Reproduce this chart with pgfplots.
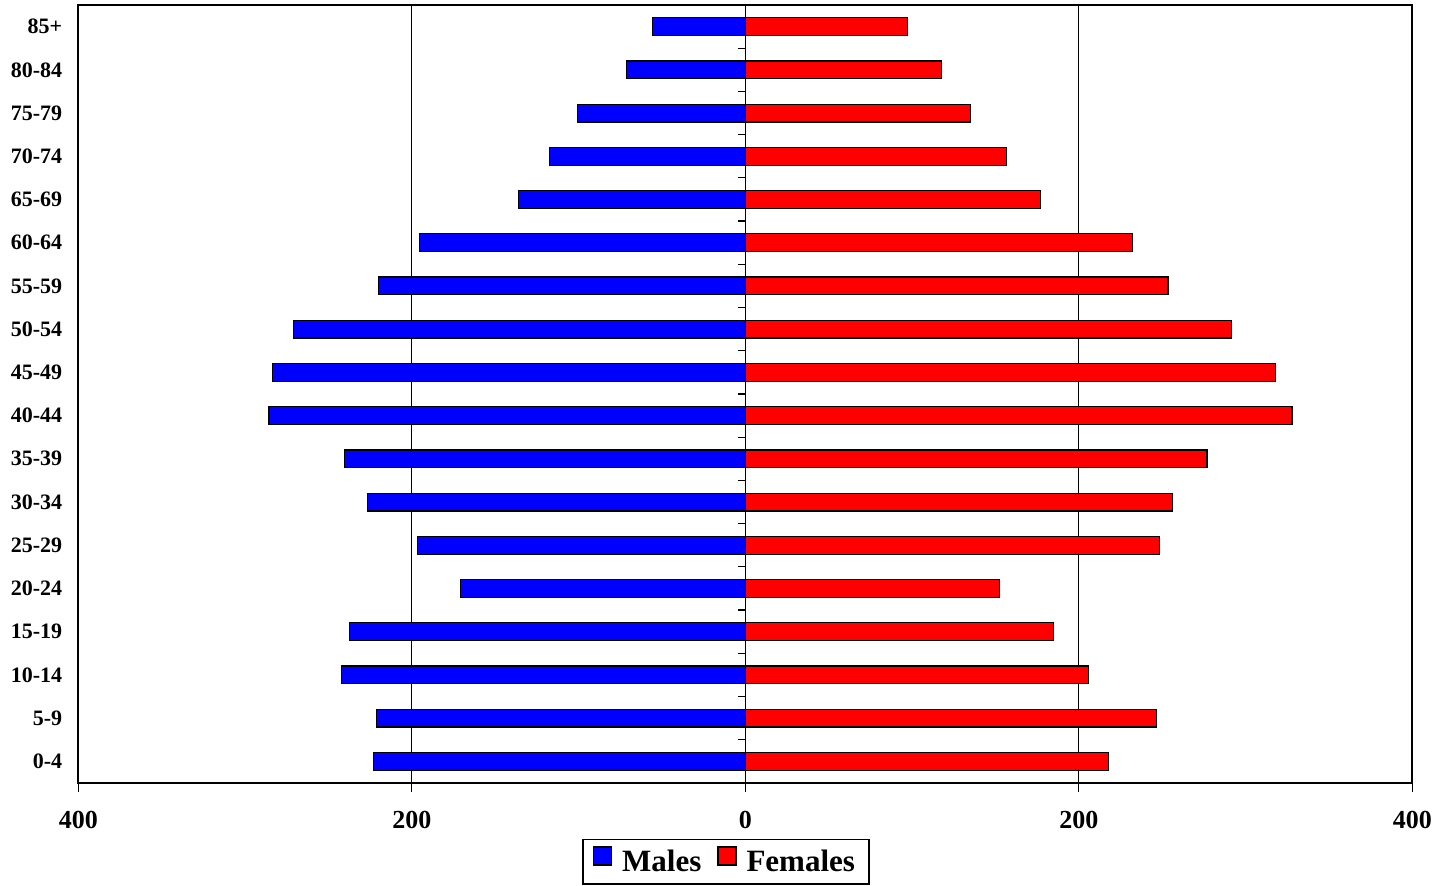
\documentclass[border=0pt]{standalone}
\usepackage{fontspec}
\setmainfont{Liberation Serif}
\usepackage{pgfplots}
\pgfplotsset{compat=1.18}

\begin{document}
\begin{tikzpicture}
  \path[use as bounding box] (-39.15pt,-51.5pt) rectangle (684.85pt,391.5pt);
  \begin{axis}[
      at={(0,0)}, anchor=south west,
      scale only axis, width=667pt, height=389pt,
      xbar, bar width=0.41,
      xmin=-400, xmax=400, ymin=-0.5, ymax=17.5,
      xtick={-400,-200,0,200,400},
      xticklabels={400,200,0,200,400},
      ytick={0,...,17},
      yticklabels={0-4,5-9,10-14,15-19,20-24,25-29,30-34,35-39,40-44,45-49,
        50-54,55-59,60-64,65-69,70-74,75-79,80-84,85+},
      xtick pos=bottom, ytick pos=left,
      tick align=outside, major tick length=4.5pt,
      ytick style={draw=none},
      xtick style={black, line width=0.7pt},
      axis line style={line width=0.8pt},
      xmajorgrids, grid style={black, line width=0.6pt},
      xticklabel style={font=\fontsize{13}{15}\selectfont\bfseries, yshift=-6pt},
      yticklabel style={font=\fontsize{11}{13}\selectfont\bfseries},
      legend style={at={(0.4855,-0.1311)}, anchor=south,
        legend columns=-1, draw=black, line width=0.8pt,
        font=\fontsize{15.5}{18}\selectfont\bfseries,
        inner xsep=5pt, inner ysep=3pt,
        /tikz/every odd column/.append style={column sep=3pt},
        /tikz/every even column/.append style={column sep=6pt}},
      legend image code/.code={\draw[#1, line width=0.6pt] (0pt,-1.5pt) rectangle (9pt,7.5pt);}
    ]
    % males, drawn to the left
    \addplot[fill=blue, draw=black, line width=0.6pt, bar shift=0pt] coordinates {
      (-223,0) (-221.3,1) (-242.3,2) (-237.5,3) (-171,4) (-196.7,5)
      (-226.7,6) (-240.5,7) (-285.6,8) (-283.6,9) (-270.9,10) (-219.9,11)
      (-195.5,12) (-136.1,13) (-117.5,14) (-100.7,15) (-71.4,16) (-55.8,17)};
    % females, drawn to the right
    \addplot[fill=red, draw=black, line width=0.6pt, bar shift=0pt] coordinates {
      (217.7,0) (246.5,1) (205.7,2) (184.7,3) (152.3,4) (248.3,5)
      (256.1,6) (276.9,7) (327.9,8) (318,9) (291.5,10) (253.5,11)
      (232.1,12) (176.9,13) (156.5,14) (134.9,15) (117.5,16) (97.2,17)};
    \pgfplotsinvokeforeach{-0.5,0.5,...,17.5}{
      \draw[line width=0.6pt] (axis cs:0,#1) -- ++(-3.5pt,0pt);
    }
    \legend{Males,Females}
  \end{axis}
\end{tikzpicture}
\end{document}
